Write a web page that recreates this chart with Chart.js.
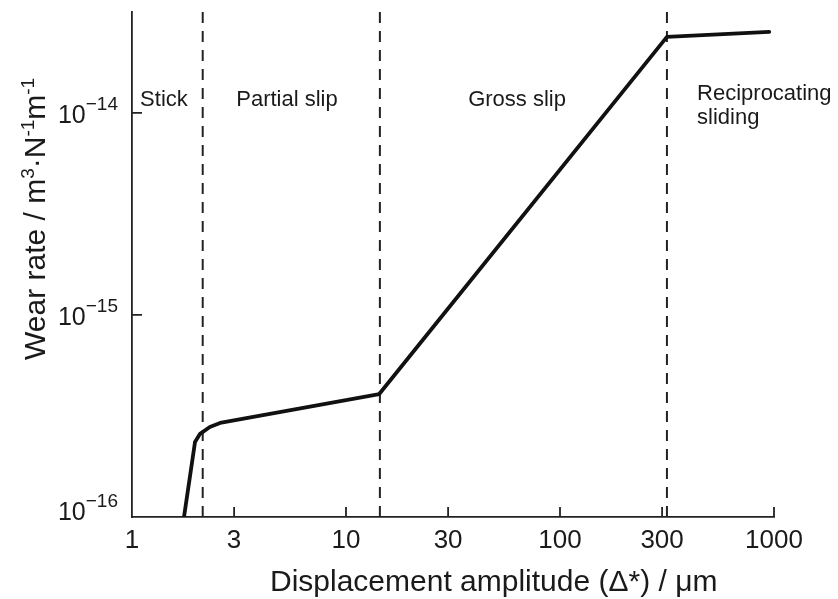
<!DOCTYPE html>
<html>
<head>
<meta charset="utf-8">
<script src="https://cdn.jsdelivr.net/npm/chart.js@4.4.1/dist/chart.umd.min.js"></script>
<style>
  body { margin: 0; background: #fff; }
  #wrap { width: 838px; height: 599px; }
</style>
</head>
<body>
<div id="wrap"><canvas id="wear" width="838" height="599"></canvas></div>
<script>
// wear rate vs displacement amplitude (log-log)
const ampX = [1.75, 1.97, 2.08, 2.31, 2.58, 14.3, 316, 950];
const wearY = [1e-16, 2.35e-16, 2.58e-16, 2.79e-16, 2.92e-16, 4.06e-16, 2.38e-14, 2.52e-14];

// regime boundaries (µm)
const boundaries = [2.14, 14.4, 316];

const xTicks = [1, 3, 10, 30, 100, 300, 1000];
const yTicks = [1e-16, 1e-15, 1e-14];
const yExp = ['\u221216', '\u221215', '\u221214'];

const regimes = [
  { text: ['Stick'], x: 1.41, align: 'center' },
  { text: ['Partial slip'], x: 5.3, align: 'center' },
  { text: ['Gross slip'], x: 63, align: 'center' },
  { text: ['Reciprocating', 'sliding'], x: 437, align: 'left' }
];

const X_MIN = 1, X_MAX = 1000, Y_MIN = 1e-16, Y_MAX = 3.16e-14;
const FONT = '"Liberation Sans", Arial, sans-serif';
const AXIS_COLOR = '#222';

const curve = ampX.map((x, i) => ({ x: x, y: wearY[i] }));
const dashSets = boundaries.map(b => ({
  data: [{ x: b, y: Y_MIN }, { x: b, y: Y_MAX }],
  borderColor: '#222',
  borderWidth: 2,
  borderDash: [11, 8],
  pointRadius: 0,
  fill: false
}));

// draws inner ticks, tick labels, titles and regime names
const decorations = {
  id: 'decorations',
  afterDraw(chart) {
    const ctx = chart.ctx;
    const xs = chart.scales.x, ys = chart.scales.y;
    const area = chart.chartArea;
    ctx.save();
    ctx.strokeStyle = AXIS_COLOR;
    ctx.lineWidth = 1.8;
    ctx.fillStyle = '#1a1a1a';

    // ticks pointing inward
    ctx.beginPath();
    xTicks.slice(1).forEach(v => {
      const px = xs.getPixelForValue(v);
      ctx.moveTo(px, area.bottom);
      ctx.lineTo(px, area.bottom - 10);
    });
    yTicks.slice(1).forEach(v => {
      const py = ys.getPixelForValue(v);
      ctx.moveTo(area.left, py);
      ctx.lineTo(area.left + 10, py);
    });
    ctx.stroke();

    // x tick labels
    ctx.font = '26px ' + FONT;
    ctx.textAlign = 'center';
    ctx.textBaseline = 'alphabetic';
    xTicks.forEach(v => {
      ctx.fillText(String(v), xs.getPixelForValue(v), area.bottom + 31);
    });

    // y tick labels, 10 with a superscript exponent
    yTicks.forEach((v, i) => {
      const py = ys.getPixelForValue(v);
      const base = Math.min(py + 10, area.bottom + 3);
      const right = area.left - 14;
      ctx.textAlign = 'right';
      ctx.textBaseline = 'alphabetic';
      ctx.font = '19px ' + FONT;
      const ew = ctx.measureText(yExp[i]).width;
      ctx.fillText(yExp[i], right, base - 13);
      ctx.font = '25px ' + FONT;
      ctx.fillText('10', right - ew, base);
    });

    // x title
    ctx.font = '30px ' + FONT;
    ctx.textAlign = 'left';
    ctx.textBaseline = 'alphabetic';
    ctx.fillText('Displacement amplitude (\u0394*) / \u03bcm', 270, 591);

    // y title with superscripts, rotated
    const parts = [
      ['Wear rate / m', false], ['3', true], ['\u00b7N', false],
      ['-1', true], ['m', false], ['-1', true]
    ];
    const big = '30px ' + FONT, small = '19px ' + FONT;
    ctx.translate(45, 360);
    ctx.rotate(-Math.PI / 2);
    let cx = 0;
    parts.forEach(p => {
      ctx.font = p[1] ? small : big;
      ctx.fillText(p[0], cx, p[1] ? -11 : 0);
      cx += ctx.measureText(p[0]).width;
    });
    ctx.setTransform(1, 0, 0, 1, 0, 0);

    // regime names
    ctx.font = '22px ' + FONT;
    regimes.forEach(r => {
      ctx.textAlign = r.align;
      const px = xs.getPixelForValue(r.x);
      const top = r.text.length > 1 ? 100 : 106;
      r.text.forEach((line, j) => ctx.fillText(line, px, top + j * 24));
    });
    ctx.restore();
  }
};

new Chart(document.getElementById('wear'), {
  type: 'line',
  data: {
    datasets: [{
      data: curve,
      borderColor: '#111',
      borderWidth: 3.8,
      pointRadius: 0,
      fill: false,
      borderJoinStyle: 'round',
      borderCapStyle: 'round'
    }].concat(dashSets)
  },
  options: {
    responsive: false,
    animation: false,
    layout: { padding: { left: 132, right: 64, top: 12, bottom: 82 } },
    plugins: { legend: { display: false }, tooltip: { enabled: false } },
    scales: {
      x: {
        type: 'logarithmic', min: X_MIN, max: X_MAX,
        grid: { display: false, drawTicks: false },
        border: { display: true, color: AXIS_COLOR, width: 1.8 },
        ticks: { display: false }
      },
      y: {
        type: 'logarithmic', min: Y_MIN, max: Y_MAX,
        grid: { display: false, drawTicks: false },
        border: { display: true, color: AXIS_COLOR, width: 1.8 },
        ticks: { display: false }
      }
    }
  },
  plugins: [decorations]
});
</script>
</body>
</html>
